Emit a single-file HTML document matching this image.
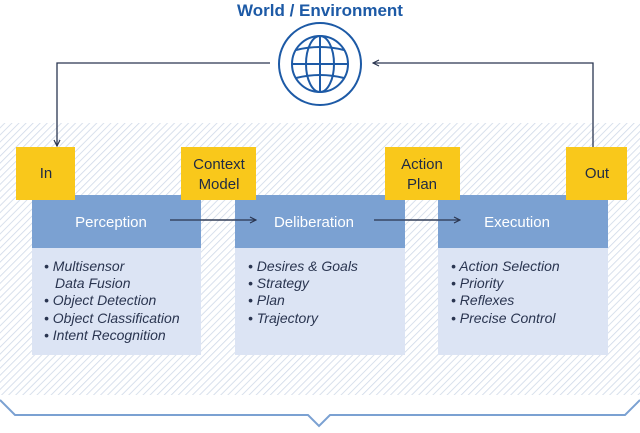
<!DOCTYPE html>
<html><head><meta charset="utf-8"><style>
body{margin:0;width:640px;height:428px;overflow:hidden;background:#fff;font-family:"Liberation Sans",sans-serif}
</style></head><body>
<svg width="640" height="428" viewBox="0 0 640 428" xmlns="http://www.w3.org/2000/svg">
<defs>
<pattern id="h" width="5" height="5" patternUnits="userSpaceOnUse" patternTransform="rotate(45)">
<rect width="5" height="5" fill="#fff"/><line x1="0" y1="0" x2="0" y2="5" stroke="#cfd9e8" stroke-width="1.6"/>
</pattern>
<marker id="a" markerWidth="8" markerHeight="8" refX="7" refY="4" orient="auto" markerUnits="userSpaceOnUse"><path d="M1,1 L7,4 L1,7" fill="none" stroke="#2a3550" stroke-width="1.2"/></marker>
</defs>
<rect x="0" y="123" width="640" height="272" fill="url(#h)"/>
<text x="320" y="16" text-anchor="middle" font-size="17" font-weight="bold" fill="#1d5aa6">World / Environment</text>
<circle cx="320" cy="64" r="41" fill="#fff" stroke="#1d5aa6" stroke-width="2"/>
<g fill="none" stroke="#1d5aa6" stroke-width="2">
<circle cx="320" cy="64" r="28"/>
<ellipse cx="320" cy="64" rx="14" ry="28"/>
<line x1="320" y1="36" x2="320" y2="92"/>
<line x1="292" y1="64" x2="348" y2="64"/>
<path d="M296,50 Q320,44 344,50"/><path d="M296,78 Q320,72 344,78"/>
</g>
<g fill="none" stroke="#2a3550" stroke-width="1.3">
<polyline points="270,63 57,63 57,146" marker-end="url(#a)"/>
<polyline points="593,148 593,63 373,63" marker-end="url(#a)"/>
<line x1="170" y1="220" x2="256" y2="220" marker-end="url(#a)"/>
<line x1="374" y1="220" x2="460" y2="220" marker-end="url(#a)"/>
</g>
<g fill="#dce4f4"><rect x="32" y="248" width="169" height="107"/><rect x="235" y="248" width="170" height="107"/><rect x="438" y="248" width="170" height="107"/></g>
<g fill="#7ba1d2"><rect x="32" y="195" width="169" height="53"/><rect x="235" y="195" width="170" height="53"/><rect x="438" y="195" width="170" height="53"/></g>
<g fill="none" stroke="#2a3550" stroke-width="1.3">
<line x1="170" y1="220" x2="256" y2="220" marker-end="url(#a)"/>
<line x1="374" y1="220" x2="460" y2="220" marker-end="url(#a)"/>
</g>
<g fill="#f9c81b"><rect x="16" y="147" width="59" height="53"/><rect x="181" y="147" width="75" height="53"/><rect x="385" y="147" width="75" height="53"/><rect x="566" y="147" width="61" height="53"/></g>
<g font-size="15" fill="#1f2a44" text-anchor="middle">
<text x="46" y="178">In</text>
<text x="219" y="169">Context</text><text x="219" y="189">Model</text>
<text x="422" y="169">Action</text><text x="422" y="189">Plan</text>
<text x="597" y="178">Out</text>
</g>
<g font-size="15" fill="#fff" text-anchor="middle">
<text x="111" y="227">Perception</text><text x="314" y="227">Deliberation</text><text x="517" y="227">Execution</text>
</g>
<g font-size="14" font-style="italic" fill="#2a3550">
<text x="44" y="271">• Multisensor</text><text x="55" y="288">Data Fusion</text>
<text x="44" y="305">• Object Detection</text><text x="44" y="323">• Object Classification</text><text x="44" y="340">• Intent Recognition</text>
<text x="248" y="271">• Desires &amp; Goals</text><text x="248" y="288">• Strategy</text><text x="248" y="305">• Plan</text><text x="248" y="323">• Trajectory</text>
<text x="451" y="271">• Action Selection</text><text x="451" y="288">• Priority</text><text x="451" y="305">• Reflexes</text><text x="451" y="323">• Precise Control</text>
</g>
<polyline points="0,400 15,415 308,415 319,426 330,415 625,415 640,400" fill="none" stroke="#7ba1d2" stroke-width="2"/>
</svg>
</body></html>
